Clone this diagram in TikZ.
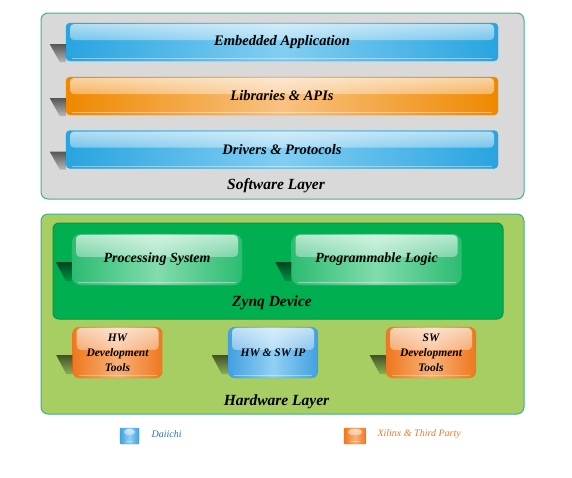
\documentclass[tikz,border=0pt]{standalone}
\usepackage{fontspec}
\setmainfont{Liberation Serif}
\usetikzlibrary{calc,fadings}
\definecolor{edgeteal}{RGB}{64,176,146}
\definecolor{swgray}{RGB}{217,217,217}
\definecolor{hwgreen}{RGB}{166,206,98}
\definecolor{zynqgreen}{RGB}{0,176,80}
\definecolor{bluedark}{RGB}{40,164,224}
\definecolor{bluelight}{RGB}{130,206,242}
\definecolor{orangedark}{RGB}{240,136,0}
\definecolor{orangelight}{RGB}{248,194,130}
\definecolor{greendark}{RGB}{44,188,114}
\definecolor{greenlight}{RGB}{130,220,172}
\definecolor{tooldark}{RGB}{238,120,30}
\definecolor{toollight}{RGB}{248,176,120}
\definecolor{ipdark}{RGB}{66,160,224}
\definecolor{iplight}{RGB}{146,208,244}
\definecolor{daiichiblue}{RGB}{46,110,180}
\definecolor{xilinxorange}{RGB}{240,120,40}
\tikzfading[name=glowfade,top color=transparent!35,bottom color=transparent!100]
\tikzfading[name=shadowfade,top color=transparent!40,bottom color=transparent!85]

\begin{document}
\begin{tikzpicture}[x=1pt,y=-1pt,font=\bfseries\itshape]
    \tikzstyle{layer}=[draw=edgeteal,line width=1pt,rounded corners=7pt,inner sep=0pt]
    \tikzstyle{gloss}=[rounded corners=4pt,inner sep=0pt,align=center,path picture={
        \fill[white,rounded corners=4pt,path fading=glowfade] ([xshift=4pt,yshift=-1pt]path picture bounding box.north west) rectangle ([xshift=-4pt]$(path picture bounding box.north east)!.45!(path picture bounding box.south east)$);
        \draw[white,opacity=.4,line width=1pt] ([xshift=6pt,yshift=2.5pt]path picture bounding box.south west) -- ([xshift=-6pt,yshift=2.5pt]path picture bounding box.south east);}]
    \tikzstyle{bar}=[gloss,minimum width=432pt,minimum height=38pt,font=\bfseries\itshape\fontsize{14.5}{16}\selectfont]
    \tikzstyle{bluebar}=[bar,draw=bluedark,left color=bluedark,right color=bluedark,middle color=bluelight]
    \tikzstyle{orangebar}=[bar,draw=orangedark,left color=orangedark,right color=orangedark,middle color=orangelight]
    \tikzstyle{zynqbox}=[gloss,rounded corners=9pt,draw=greendark,left color=greendark,right color=greendark,middle color=greenlight,minimum width=170pt,minimum height=51pt,font=\bfseries\itshape\fontsize{14}{16}\selectfont]
    \tikzstyle{toolbox}=[gloss,rounded corners=7pt,minimum width=90pt,minimum height=51pt,font=\bfseries\itshape\fontsize{11.5}{15}\selectfont]
    \tikzstyle{xilinx}=[draw=tooldark,left color=tooldark,right color=tooldark,middle color=toollight]
    \tikzstyle{daiichi}=[draw=ipdark,left color=ipdark,right color=ipdark,middle color=iplight]
    \tikzstyle{title}=[font=\bfseries\itshape\fontsize{15.5}{18}\selectfont]
    \tikzstyle{shadow}=[fill=black,path fading=shadowfade]
    \tikzstyle{legend}=[anchor=west,font=\itshape\fontsize{10}{12}\selectfont]

    \useasboundingbox (0,0) rectangle (572,477);

    \node[layer,fill=swgray,minimum width=483pt,minimum height=186pt] (sw) at (282.5,106) {};
    \node[bluebar] (app) at (282,42) {Embedded Application};
    \node[orangebar] (lib) at (282,96) {Libraries \& APIs};
    \node[bluebar] (drv) at (282,149.5) {Drivers \& Protocols};
    \node[title] (swtitle) at (276,186) {Software Layer};

    \node[layer,fill=hwgreen,minimum width=483pt,minimum height=200pt] (hw) at (282.5,314) {};
    \node[layer,draw=zynqgreen!85!black,fill=zynqgreen,rounded corners=6pt,minimum width=450pt,minimum height=96pt] (zynq) at (278,271) {};
    \node[zynqbox] (ps) at (157,259.5) {Processing System};
    \node[zynqbox] (pl) at (376.5,259.5) {Programmable Logic};
    \node[title] (zynqtitle) at (272,303) {Zynq Device};
    \node[toolbox,xilinx] (hwtools) at (117.5,352.5) {HW\\Development\\Tools};
    \node[toolbox,daiichi] (ip) at (273,352.5) {HW \& SW IP};
    \node[toolbox,xilinx] (swtools) at (431,352.5) {SW\\Development\\Tools};
    \node[title] (hwtitle) at (276.5,402) {Hardware Layer};

    \foreach \n in {app,lib,drv}
        \fill[shadow] ($(\n.south west)+(-16,-17)$) -- ($(\n.south west)+(0,-17)$) -- ($(\n.south west)+(0,1)$) -- ($(\n.south west)+(-6,1)$) -- cycle;
    \foreach \n in {ps,pl,hwtools,ip,swtools}
        \fill[shadow] ($(\n.south west)+(-16,-23)$) -- ($(\n.south west)+(0,-23)$) -- ($(\n.south west)+(0,-4)$) -- ($(\n.south west)+(-6,-4)$) -- cycle;

    \node[gloss,daiichi,rounded corners=1pt,minimum width=19pt,minimum height=16pt] (keyblue) at (129.5,436) {};
    \node[legend,text=daiichiblue] (keybluetext) at (148,434) {Daiichi};
    \node[gloss,xilinx,rounded corners=1pt,minimum width=22pt,minimum height=16pt] (keyorange) at (355,436) {};
    \node[legend,text=xilinxorange] (keyorangetext) at (374,434) {Xilinx \& Third Party};
\end{tikzpicture}
\end{document}
